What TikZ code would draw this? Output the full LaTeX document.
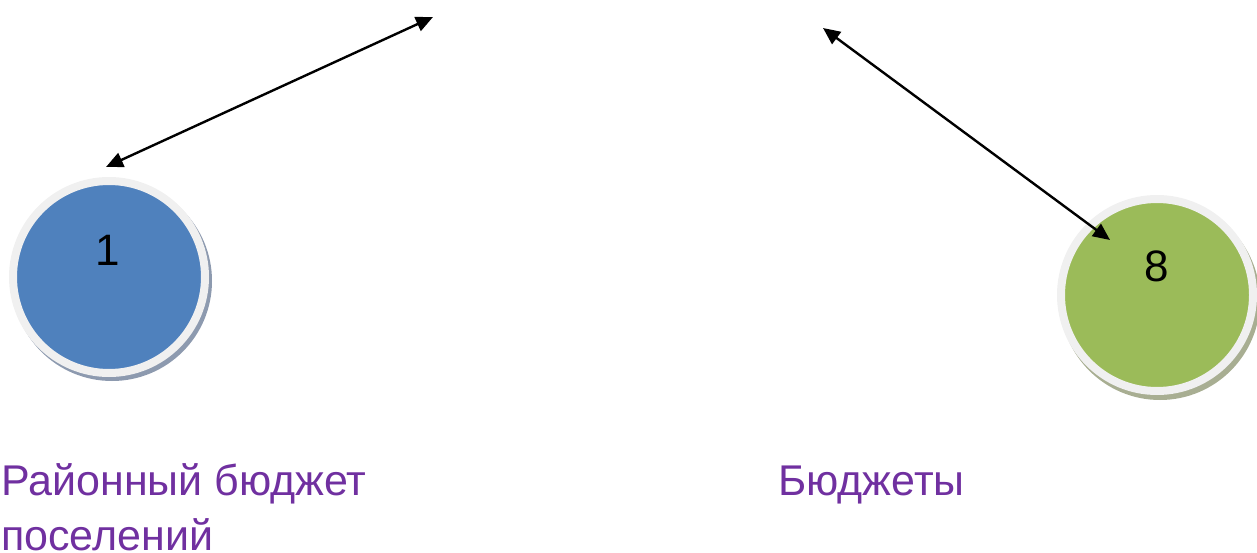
\documentclass[tikz,border=0pt]{standalone}
\usepackage{fontspec}
\setmainfont{Liberation Sans}
\usetikzlibrary{arrows.meta}
\definecolor{cblue}{HTML}{4F81BD}
\definecolor{cgreen}{HTML}{9BBB59}
\definecolor{cpurple}{HTML}{7030A0}
\definecolor{ring}{HTML}{F0F0F0}
\definecolor{shblue}{HTML}{8D9AAF}
\definecolor{shgreen}{HTML}{A8AE92}
\tikzset{
  ball/.style={circle, draw=ring, line width=8pt, minimum size=192pt, inner sep=0pt},
  ballshadow/.style={circle, minimum size=200pt, inner sep=0pt},
  digit/.style={font=\fontsize{44}{48}\selectfont, text=black, inner sep=0pt},
  label/.style={font=\fontsize{43}{55}\selectfont, text=cpurple, inner sep=0pt, anchor=base west, align=left},
  conn/.style={line width=2.4pt, {Triangle[length=17pt,width=15pt]}-{Triangle[length=17pt,width=15pt]}}
}
\begin{document}
\begin{tikzpicture}[x=1pt,y=-1pt]
\useasboundingbox (0,0) rectangle (1257,553);
% circle 1
\node[ballshadow, fill=shblue] (s1) at (112,281) {};
\node[ball, fill=cblue] (c1) at (109,277) {};
\node[digit] (n1) at (108,250) {1};
% circle 8
\node[ballshadow, fill=shgreen] (s8) at (1160,300) {};
\node[ball, fill=cgreen] (c8) at (1157,295) {};
\node[digit] (n8) at (1157,266) {8};
% arrows
\coordinate (t1) at (433,17);
\coordinate (b1) at (106,167);
\coordinate (t2) at (823,28);
\coordinate (b2) at (1110,240);
\draw[conn] (b1) -- (t1);
\draw[conn] (t2) -- (b2);
% labels
\node[label] (l1) at (1,550) {Районный бюджет\\поселений};
\node[label] (l8) at (778,495) {Бюджеты};
\end{tikzpicture}
\end{document}
